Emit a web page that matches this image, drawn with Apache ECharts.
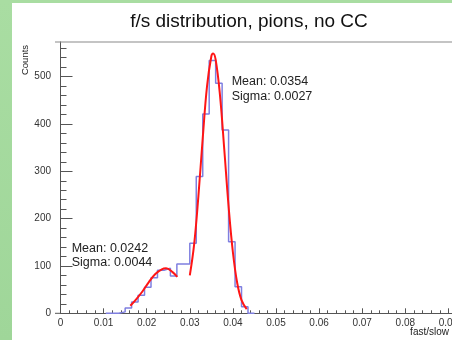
<!DOCTYPE html>
<html><head><meta charset="utf-8">
<script src="https://cdn.jsdelivr.net/npm/echarts@6/dist/echarts.min.js"></script>
<style>html,body{margin:0;padding:0;background:#fff;}#c{width:452px;height:340px;}</style>
</head><body><div id="c"></div>
<script>
const titleText = 'f/s distribution, pions, no CC';
const xTitle = 'fast/slow';
const yTitle = 'Counts';
const binLow = 0.0105;
const binWidth = 0.0015;
const counts = [0, 0, 3, 11, 24, 38, 55, 75, 91, 95, 79, 104, 104, 148, 289, 421, 534, 486, 387, 151, 56, 14, 0];
const fitLowX = [0.0162, 0.0175, 0.0190, 0.0205, 0.0220, 0.0235, 0.0245, 0.0260, 0.0271];
const fitLowY = [16, 29, 46, 66, 83, 93, 95, 87, 77];
const fitHighX = [0.0300, 0.0310, 0.0320, 0.0330, 0.0340, 0.0350, 0.0354, 0.0360, 0.0370, 0.0380, 0.0390, 0.0400, 0.0410, 0.0420, 0.0432];
const fitHighY = [80, 145, 248, 370, 480, 543, 549, 536, 461, 346, 226, 129, 64, 28, 9];
const statsLow = ['Mean: 0.0242', 'Sigma: 0.0044'];
const statsHigh = ['Mean: 0.0354', 'Sigma: 0.0027'];

const FONT = '"Liberation Sans", Arial, Helvetica, sans-serif';
const histData = counts.map((c, i) => [+(binLow + i * binWidth).toFixed(5), c]);
histData.push([+(binLow + counts.length * binWidth).toFixed(5), 0]);
const lowData = fitLowX.map((x, i) => [x, fitLowY[i]]);
const highData = fitHighX.map((x, i) => [x, fitHighY[i]]);

const axisCol = '#555';
const chart = echarts.init(document.getElementById('c'), null, {renderer: 'canvas'});
chart.setOption({
  animation: false,
  backgroundColor: '#ffffff',
  grid: {left: 60.5, top: 29.3, width: 431, height: 284, containLabel: false, outerBoundsMode: 'none'},
  xAxis: {
    type: 'value', min: 0, max: 0.1, interval: 0.01,
    axisLine: {show: true, lineStyle: {color: axisCol, width: 1}},
    axisTick: {show: true, inside: true, length: 5, lineStyle: {color: axisCol}},
    minorTick: {show: true, splitNumber: 5, length: 3, lineStyle: {color: axisCol}},
    splitLine: {show: false},
    axisLabel: {margin: 5, fontSize: 10, color: '#333', fontFamily: FONT, hideOverlap: false,
      formatter: v => v === 0 ? '0' : v.toFixed(2)}
  },
  yAxis: {
    type: 'value', min: 0, max: 600, interval: 100, offset: 5.5,
    axisLine: {show: true, lineStyle: {color: axisCol, width: 1}},
    axisTick: {show: true, inside: true, length: 12, lineStyle: {color: axisCol}},
    minorTick: {show: true, splitNumber: 5, length: 6, lineStyle: {color: axisCol}},
    splitLine: {show: false},
    axisLabel: {margin: 4, fontSize: 10, color: '#333', fontFamily: FONT, showMaxLabel: false}
  },
  series: [
    {type: 'line', step: 'end', data: histData, showSymbol: false, z: 2,
      lineStyle: {color: '#7f7fe0', width: 1.5}},
    {type: 'line', data: lowData, smooth: 0.4, showSymbol: false, z: 3,
      lineStyle: {color: '#ff1515', width: 2}},
    {type: 'line', data: highData, smooth: 0.4, showSymbol: false, z: 3,
      lineStyle: {color: '#ff1515', width: 2}}
  ],
  graphic: [
    {type: 'rect', z: 20, shape: {x: 0, y: 0, width: 12, height: 340},
      style: {fill: new echarts.graphic.LinearGradient(0, 0, 0, 1, [{offset: 0, color: '#a9dda2'}, {offset: 1, color: '#9fd699'}])}},
    {type: 'rect', z: 20, shape: {x: 0, y: 0, width: 452, height: 3}, style: {fill: '#a9dda2'}},
    {type: 'rect', z: 5, shape: {x: 28, y: 26, width: 430, height: 15.6}, style: {fill: '#ffffff'}},
    {type: 'line', z: 21, shape: {x1: 55, y1: 42, x2: 452, y2: 42}, style: {stroke: '#8a8a8a', lineWidth: 1.2}},
    {type: 'line', z: 21, shape: {x1: 55, y1: 313.3, x2: 61, y2: 313.3}, style: {stroke: axisCol, lineWidth: 1}},
    {type: 'text', z: 22, x: 249, y: 21.5, style: {text: titleText, fontSize: 19, fontFamily: FONT, fill: '#111', align: 'center', verticalAlign: 'middle'}},
    {type: 'text', z: 22, x: 25.7, y: 60, rotation: Math.PI / 2, style: {text: yTitle, fontSize: 9.5, fontFamily: FONT, fill: '#222', align: 'center', verticalAlign: 'middle'}},
    {type: 'text', z: 22, x: 449, y: 332, style: {text: xTitle, fontSize: 10, fontFamily: FONT, fill: '#222', align: 'right', verticalAlign: 'middle'}},
    {type: 'text', z: 22, x: 231.7, y: 81.5, style: {text: statsHigh[0], fontSize: 12.5, fontFamily: FONT, fill: '#222', align: 'left', verticalAlign: 'middle'}},
    {type: 'text', z: 22, x: 231.7, y: 96.5, style: {text: statsHigh[1], fontSize: 12.5, fontFamily: FONT, fill: '#222', align: 'left', verticalAlign: 'middle'}},
    {type: 'text', z: 22, x: 71.7, y: 248.3, style: {text: statsLow[0], fontSize: 12.5, fontFamily: FONT, fill: '#222', align: 'left', verticalAlign: 'middle'}},
    {type: 'text', z: 22, x: 71.7, y: 262.8, style: {text: statsLow[1], fontSize: 12.5, fontFamily: FONT, fill: '#222', align: 'left', verticalAlign: 'middle'}}
  ]
});
</script></body></html>
